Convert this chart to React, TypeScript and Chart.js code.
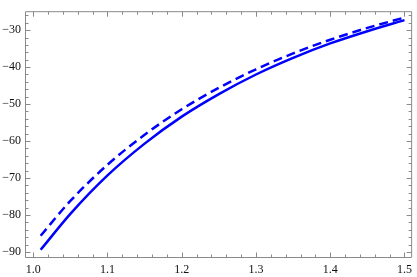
import React, { useEffect, useRef } from "react";
import { Chart, registerables } from "chart.js";

Chart.register(...registerables);

// Data
const xValues = [1.01, 1.05, 1.1, 1.15, 1.2, 1.25, 1.3, 1.35, 1.4, 1.45, 1.5];
const solidValues = [-89.4, -79.7, -69.3, -60.7, -53.4, -47.3, -42.0, -37.5, -33.6, -30.3, -27.3];
const dashedValues = [-85.6, -76.2, -66.4, -58.3, -51.4, -45.6, -40.6, -36.3, -32.6, -29.4, -26.6];

const xTickValues = [1.0, 1.1, 1.2, 1.3, 1.4, 1.5];
const xTickLabels = ["1.0", "1.1", "1.2", "1.3", "1.4", "1.5"];
const yTickValues = [-90, -80, -70, -60, -50, -40, -30];
const yTickLabels = ["\u221290", "\u221280", "\u221270", "\u221260", "\u221250", "\u221240", "\u221230"];

const xMinorStep = 0.02;
const yMinorStep = 2;

const X_MIN = 0.9889;
const X_MAX = 1.5103;
const Y_MIN = -91.63;
const Y_MAX = -24.88;

const FRAME_COLOR = "#8a8a8a";
const LINE_COLOR = "#0000ff";

const framePlugin = {
  id: "frameTicks",
  afterDraw(chart: any) {
    const { ctx, chartArea } = chart;
    const xs = chart.scales.x;
    const ys = chart.scales.y;
    const left = chartArea.left + 0.5;
    const right = chartArea.right - 0.5;
    const top = chartArea.top + 0.5;
    const bottom = chartArea.bottom - 0.5;
    ctx.save();
    ctx.strokeStyle = FRAME_COLOR;
    ctx.lineWidth = 1;
    ctx.beginPath();
    ctx.rect(left, top, right - left, bottom - top);
    ctx.stroke();

    const majorLen = 5;
    const minorLen = 3;
    ctx.beginPath();
    // x ticks (bottom & top)
    const kx0 = Math.ceil(X_MIN / xMinorStep - 1e-9);
    const kx1 = Math.floor(X_MAX / xMinorStep + 1e-9);
    for (let k = kx0; k <= kx1; k++) {
      const v = k * xMinorStep;
      const isMajor = xTickValues.some((t) => Math.abs(t - v) < 1e-6);
      const len = isMajor ? majorLen : minorLen;
      const px = Math.round(xs.getPixelForValue(v)) + 0.5;
      ctx.moveTo(px, bottom);
      ctx.lineTo(px, bottom - len);
      ctx.moveTo(px, top);
      ctx.lineTo(px, top + len);
    }
    // y ticks (left & right)
    const ky0 = Math.ceil(Y_MIN / yMinorStep - 1e-9);
    const ky1 = Math.floor(Y_MAX / yMinorStep + 1e-9);
    for (let k = ky0; k <= ky1; k++) {
      const v = k * yMinorStep;
      const isMajor = yTickValues.some((t) => Math.abs(t - v) < 1e-6);
      const len = isMajor ? majorLen : minorLen;
      const py = Math.round(ys.getPixelForValue(v)) + 0.5;
      ctx.moveTo(left, py);
      ctx.lineTo(left + len, py);
      ctx.moveTo(right, py);
      ctx.lineTo(right - len, py);
    }
    ctx.stroke();
    ctx.restore();
  },
};

export default function App() {
  const canvasRef = useRef<HTMLCanvasElement | null>(null);

  useEffect(() => {
    if (!canvasRef.current) return;
    const chart = new Chart(canvasRef.current, {
      type: "line",
      data: {
        datasets: [
          {
            label: "solid",
            data: xValues.map((x, i) => ({ x, y: solidValues[i] })),
            borderColor: LINE_COLOR,
            borderWidth: 2.5,
            pointRadius: 0,
            cubicInterpolationMode: "monotone",
            fill: false,
          },
          {
            label: "dashed",
            data: xValues.map((x, i) => ({ x, y: dashedValues[i] })),
            borderColor: LINE_COLOR,
            borderWidth: 2.5,
            borderDash: [9, 5],
            pointRadius: 0,
            cubicInterpolationMode: "monotone",
            fill: false,
          },
        ],
      },
      options: {
        animation: false,
        responsive: false,
        maintainAspectRatio: false,
        devicePixelRatio: 1,
        layout: { padding: { top: 1, right: 1, left: 0, bottom: 0 } },
        plugins: {
          legend: { display: false },
          tooltip: { enabled: false },
        },
        events: [],
        scales: {
          x: {
            type: "linear",
            min: X_MIN,
            max: X_MAX,
            grid: { display: false, drawTicks: false },
            border: { display: false },
            afterBuildTicks: (scale: any) => {
              scale.ticks = xTickValues.map((v) => ({ value: v }));
            },
            afterFit: (scale: any) => {
              scale.height = 19;
            },
            ticks: {
              autoSkip: false,
              maxRotation: 0,
              padding: 5,
              color: "#111",
              font: { family: "'Liberation Serif', 'Times New Roman', serif", size: 12 },
              callback: (_v: any, i: number) => xTickLabels[i],
            },
          },
          y: {
            type: "linear",
            min: Y_MIN,
            max: Y_MAX,
            grid: { display: false, drawTicks: false },
            border: { display: false },
            afterBuildTicks: (scale: any) => {
              scale.ticks = yTickValues.map((v) => ({ value: v }));
            },
            afterFit: (scale: any) => {
              scale.width = 25;
            },
            ticks: {
              autoSkip: false,
              padding: 4,
              color: "#111",
              font: { family: "'Liberation Serif', 'Times New Roman', serif", size: 12 },
              callback: (_v: any, i: number) => yTickLabels[i],
            },
          },
        },
      },
      plugins: [framePlugin],
    } as any);
    return () => chart.destroy();
  }, []);

  return (
    <div style={{ position: "fixed", left: 0, top: 0, width: 417, height: 277, background: "#fff" }}>
      <canvas ref={canvasRef} width={417} height={277} style={{ display: "block", width: 417, height: 277 }} />
    </div>
  );
}
